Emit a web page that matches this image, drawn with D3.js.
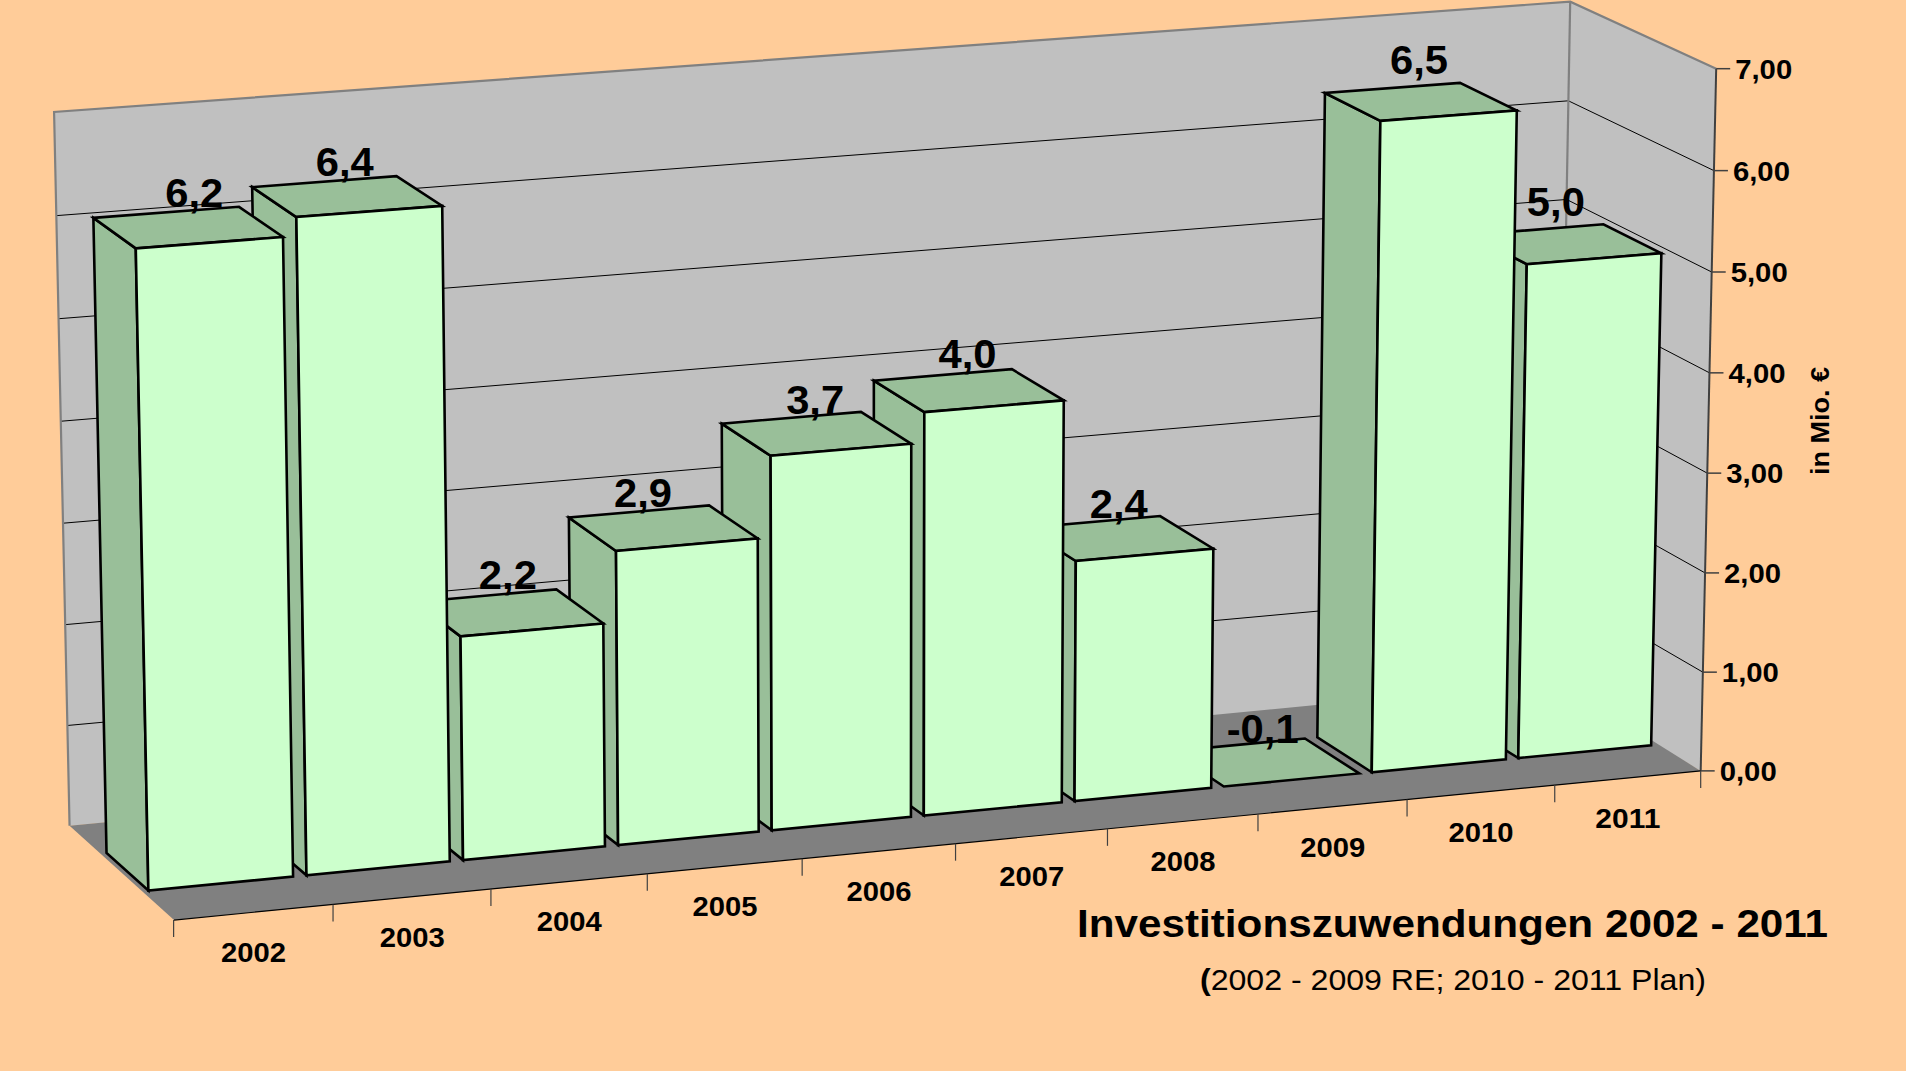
<!DOCTYPE html>
<html><head><meta charset="utf-8">
<script src="https://cdnjs.cloudflare.com/ajax/libs/d3/7.8.5/d3.min.js"></script>
<style>html,body{margin:0;padding:0;background:#FFCC99;overflow:hidden}svg{display:block}text{font-family:"Liberation Sans",Arial,sans-serif;fill:#000}</style>
</head><body><svg id="c" width="1906" height="1071"></svg>
<script>
const years = ["2002","2003","2004","2005","2006","2007","2008","2009","2010","2011"];
const values = [6.19,6.37,2.2,2.9,3.7,4.0,2.4,-0.1,6.5,4.97];
const valueLabels = ["6,2","6,4","2,2","2,9","3,7","4,0","2,4","-0,1","6,5","5,0"];
const axisTicks = [0,1,2,3,4,5,6,7];
const axisTickLabels = ["0,00","1,00","2,00","3,00","4,00","5,00","6,00","7,00"];
const titleText = "Investitionszuwendungen 2002 - 2011";
const subtitleRest = "2002 - 2009 RE; 2010 - 2011 Plan)";
const axisTitle = "in Mio. €";

const W=1906,H=1071;
const col={bg:"#FFCC99",wall:"#C0C0C0",floor:"#808080",front:"#CCFFCC",side:"#99BF99",edge:"#808080"};

// camera calibration: unit-cube landmarks to picture (corners carry extra weight)
const corners=[
 [0,0,0,174,920],[1,0,0,1700.5,771],[0,1,0,69.4,826.5],
 [0,1,1,53.5,112],[1,1,1,1569.5,1.5],[1,0,1,1716.5,69]];
const landmarks=[
 [1,0,6/7,1714,171],[1,0,5/7,1711,272],[1,0,4/7,1710,373],[1,0,3/7,1708,473.5],[1,0,2/7,1705,572.5],[1,0,1/7,1702,672],
 [0,1,6/7,57,215],[0,1,5/7,60,319],[0,1,4/7,62,421],[0,1,3/7,64,524],[0,1,2/7,66,623],[0,1,1/7,67,725],
 [1,1,6/7,1569.4,100.5],[1,1,5/7,1568,199],
 [.1,0,0,333,904.5],[.2,0,0,491,888.5],[.3,0,0,647,874],[.4,0,0,802,858],[.5,0,0,955,842.5],[.6,0,0,1107,828],[.7,0,0,1258,814.5],[.8,0,0,1408,800],[.9,0,0,1555,785]];
const calib=[...landmarks,...corners,...corners,...corners,...corners,...corners];
function solve(A,b){const n=b.length;const M=A.map((r,i)=>[...r,b[i]]);
 for(let i=0;i<n;i++){let p=i;for(let k=i+1;k<n;k++)if(Math.abs(M[k][i])>Math.abs(M[p][i]))p=k;[M[i],M[p]]=[M[p],M[i]];
  for(let k=0;k<n;k++){if(k===i)continue;const f=M[k][i]/M[i][i];for(let j=i;j<=n;j++)M[k][j]-=f*M[i][j];}}
 return M.map((r,i)=>r[n]/r[i]);}
const rows=[],rhs=[];
calib.forEach(([x,y,z,u,v])=>{
 rows.push([x,y,z,1,0,0,0,0,-u*x,-u*y,-u*z]);rhs.push(u);
 rows.push([0,0,0,0,x,y,z,1,-v*x,-v*y,-v*z]);rhs.push(v);});
const AtA=d3.range(11).map(i=>d3.range(11).map(j=>d3.sum(rows,r=>r[i]*r[j])));
const Atb=d3.range(11).map(i=>d3.sum(rows,(r,k)=>r[i]*rhs[k]));
const m=solve(AtA,Atb);
function P(x,d,z){const w=m[8]*x+m[9]*d+m[10]*z+1;
 return [(m[0]*x+m[1]*d+m[2]*z+m[3])/w,(m[4]*x+m[5]*d+m[6]*z+m[7])/w];}

const band=d3.scaleBand().domain(years).range([0,1]).paddingInner(0.085).paddingOuter(0.04);
const zS=d3.scaleLinear().domain([0,7]).range([0,1]).clamp(true);
const depthFront=0.30,depthBack=0.70,floorRise=0.0055;
const line=d3.line();
const svg=d3.select("#c");
svg.append("rect").attr("width",W).attr("height",H).attr("fill",col.bg);
const poly=(g,pts,fill,stroke,sw)=>g.append("path").attr("d",line(pts)+"Z").attr("fill",fill).attr("stroke",stroke).attr("stroke-width",sw).attr("stroke-linejoin","miter");

// walls and floor
const box=svg.append("g");
poly(box,[P(0,1,0),P(0,1,1),P(1,1,1),P(1,1,0)],col.wall,"none",0);
poly(box,[P(1,1,0),P(1,1,1),P(1,0,1),P(1,0,0)],col.wall,"none",0);
poly(box,[P(0,1,0),P(1,1,floorRise),P(1,0,0),P(0,0,0)],col.floor,"none",0);
// grid
const grid=svg.append("g").attr("fill","none").attr("stroke","#000").attr("stroke-width",1);
axisTicks.filter(t=>t>0&&t<7).forEach(t=>{const z=zS(t);
 grid.append("path").attr("d",line([P(0,1,z),P(1,1,z),P(1,0,z)]));});
// box edges
const edges=svg.append("g").attr("fill","none").attr("stroke",col.edge).attr("stroke-width",2.2);
edges.append("path").attr("d",line([P(0,1,0),P(0,1,1),P(1,1,1),P(1,0,1)]));
edges.append("path").attr("d",line([P(1,1,1),P(1,1,floorRise)]));
// axis line
svg.append("path").attr("d",line([P(1,0,1),P(1,0,0)])).attr("stroke","#404040").attr("stroke-width",2).attr("fill","none");
svg.append("path").attr("d",line([P(0,0,0),P(1,0,0)])).attr("stroke","#000").attr("stroke-width",1.2).attr("fill","none");
// x ticks
const xt=svg.append("g").attr("stroke","#404040").attr("stroke-width",1.2);
const edgesU=d3.range(years.length+1).map(i=>i===years.length?1:band(years[i])-band.step()*band.paddingInner()/2);
edgesU.forEach(u=>{const p=P(u,0,0);xt.append("line").attr("x1",p[0]).attr("x2",p[0]).attr("y1",p[1]).attr("y2",p[1]+17);});
// y ticks
const yt=svg.append("g");
axisTicks.forEach((t,i)=>{const p=P(1,0,zS(t));
 yt.append("line").attr("x1",p[0]).attr("x2",p[0]+14).attr("y1",p[1]).attr("y2",p[1]).attr("stroke","#404040").attr("stroke-width",1.5);
 yt.append("text").attr("x",p[0]+19).attr("y",p[1]+10).attr("font-size",28).attr("font-weight","bold").attr("textLength",57).attr("lengthAdjust","spacingAndGlyphs").text(axisTickLabels[i]);});
// bars, right to left
const bars=svg.append("g");
d3.range(years.length-1,-1,-1).forEach(i=>{
 const x0=band(years[i]),x1=x0+band.bandwidth(),top=zS(values[i]);
 const g=bars.append("g");
 if(top>0){
  poly(g,[P(x0,depthBack,0),P(x0,depthBack,top),P(x0,depthFront,top),P(x0,depthFront,0)],col.side,"#000",2.6);
 }
 poly(g,[P(x0,depthFront,top),P(x0,depthBack,top),P(x1,depthBack,top),P(x1,depthFront,top)],col.side,"#000",2.6);
 if(top>0) poly(g,[P(x0,depthFront,0),P(x0,depthFront,top),P(x1,depthFront,top),P(x1,depthFront,0)],col.front,"#000",2.6);
});
// value labels
const nudge={0:[6.5,2],1:[-2,2],2:[-1,-2],3:[-20,1],4:[-1,2],5:[-1,0],6:[0.5,2],7:[-2,3],8:[-1.5,-6],9:[-9.5,-6]};
const vl=svg.append("g");
values.forEach((v,i)=>{const c=P(band(years[i])+band.bandwidth()/2,(depthFront+depthBack)/2,zS(v));const n=nudge[i]||[0,0];
 const w=valueLabels[i].length===4?72:58;
 vl.append("text").attr("x",c[0]+n[0]).attr("y",c[1]-22+n[1]).attr("text-anchor","middle").attr("font-size",40).attr("font-weight","bold").attr("textLength",w).attr("lengthAdjust","spacingAndGlyphs").text(valueLabels[i]);});
// category labels
const cl=svg.append("g");
years.forEach((y,i)=>{const u=(edgesU[i]+edgesU[i+1])/2,p=P(u,0,0);
 cl.append("text").attr("x",p[0]).attr("y",p[1]+50).attr("text-anchor","middle").attr("font-size",27).attr("font-weight","bold").attr("textLength",65).attr("lengthAdjust","spacingAndGlyphs").text(y);});
// titles
svg.append("text").attr("x",1077).attr("y",937).attr("font-size",38).attr("font-weight","bold").attr("textLength",751).attr("lengthAdjust","spacingAndGlyphs").text(titleText);
const sub=svg.append("text").attr("x",1200).attr("y",990).attr("font-size",29).attr("textLength",506).attr("lengthAdjust","spacingAndGlyphs");
sub.append("tspan").attr("font-weight","bold").text("(");
sub.append("tspan").text(subtitleRest);
svg.append("text").attr("transform","translate(1829,421) rotate(-90)").attr("text-anchor","middle").attr("font-size",26).attr("font-weight","bold").attr("textLength",108).attr("lengthAdjust","spacingAndGlyphs").text(axisTitle);
</script></body></html>
